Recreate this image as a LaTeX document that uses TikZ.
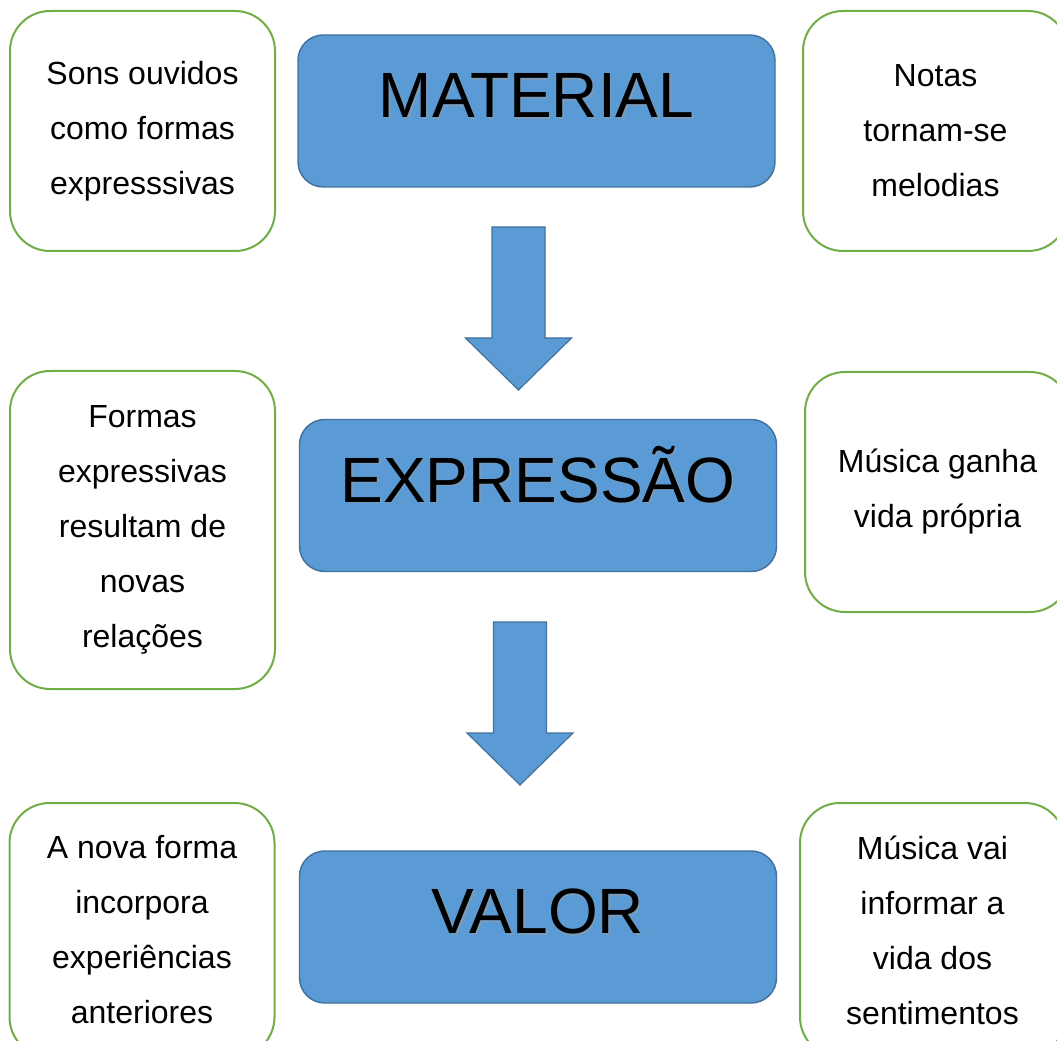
\documentclass[tikz,border=0pt]{standalone}
\usepackage{fontspec}
\setmainfont{Liberation Sans}
\usepackage{xcolor}
\usepackage{tikz}
\usetikzlibrary{calc}
\definecolor{mainfill}{HTML}{5B9BD5}
\definecolor{mainborder}{HTML}{41719C}
\definecolor{sideborder}{HTML}{70AD47}
\newcommand{\ShadowText}[1]{%
	\rlap{\hspace{1.2pt}\raisebox{-1.2pt}{\color{mainborder!70}#1}}#1%
}
\newcommand{\BlockArrow}[1]{%
	\draw [blockarrow] (#1) ++(-26.5,0) -- ++(53,0) -- ++(0,111) -- ++(26.5,0)
		-- ++(-53,52) -- ++(-53,-52) -- ++(26.5,0) -- cycle;%
}
\tikzset{
	sidebox/.style = {draw = sideborder, line width = 1.5pt, fill = white,
		rounded corners = 30pt, align = center, inner sep = 0pt,
		minimum width = 198.75pt,
		font = \fontsize{24}{41.25}\selectfont},
	mainbox/.style = {draw = mainborder, line width = 1.1pt, fill = mainfill,
		rounded corners = 19pt, inner sep = 0pt,
		minimum width = 357.75pt, minimum height = 114pt,
		text height = 30pt, text depth = 20pt,
		font = \fontsize{48}{48}\selectfont},
	blockarrow/.style = {draw = mainborder, line width = 0.9pt, fill = mainfill}
}

\begin{document}
\begin{tikzpicture}[x = 0.75pt, y = -0.75pt]
	\useasboundingbox (0,0) rectangle (1057,1041);
	\clip (0,0) rectangle (1057,1041);
	
	% main column
	\node [mainbox] (material) at (536.5,111) {\ShadowText{MATERIAL}};
	\node [mainbox] (expressao) at (538,495.5) {\ShadowText{EXPRESSÃO}};
	\node [mainbox] (valor) at (538,927) {\ShadowText{VALOR}};
	
	\coordinate (arrowA) at (518.5,227);
	\coordinate (arrowB) at (520,622);
	\BlockArrow{arrowA}
	\BlockArrow{arrowB}
	
	% left column
	\node [sidebox, minimum height = 180pt] (sons) at (142.5,131)
		{Sons ouvidos\\como formas\\expresssivas};
	\node [sidebox, minimum height = 238.5pt] (formas) at (142.5,530)
		{Formas\\expressivas\\resultam de\\novas\\relações};
	\node [sidebox, minimum height = 190.5pt] (novaforma) at (142,930)
		{A nova forma\\incorpora\\experiências\\anteriores};
	
	% right column
	\node [sidebox, minimum height = 180pt] (notas) at (935.5,131)
		{Notas\\tornam-se\\melodias};
	\node [sidebox, minimum height = 180pt] (vida) at (937.5,492)
		{Música ganha\\vida própria};
	\node [sidebox, minimum height = 190.5pt] (informar) at (932.5,930)
		{Música vai\\informar a\\vida dos\\sentimentos};
\end{tikzpicture}
\end{document}
